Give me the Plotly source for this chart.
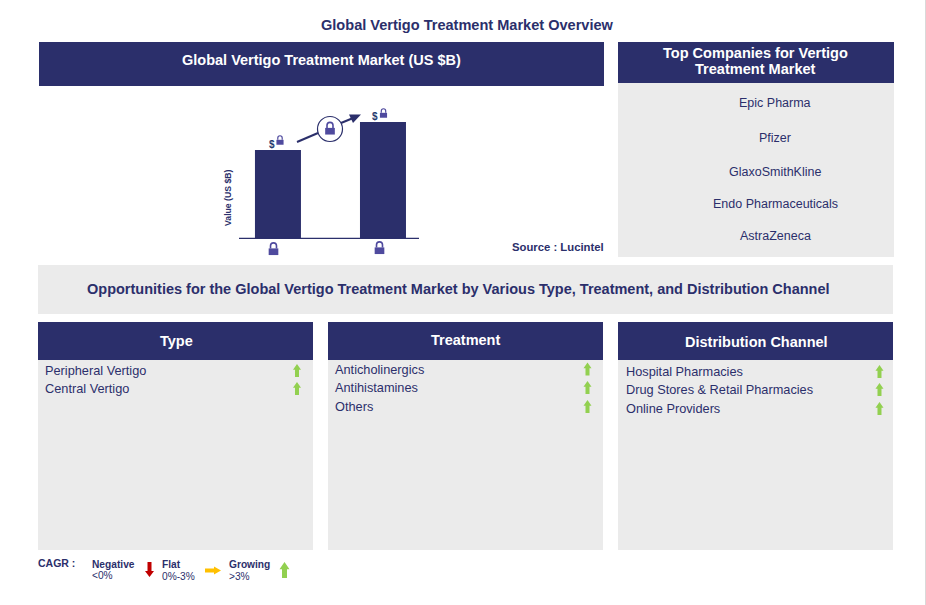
import plotly.graph_objects as go

W, H = 926, 605
NAVY = "#2B2F6B"
GRAY = "#EBEBEB"
GREEN = "#92D050"
LOCK = "#4F4A9E"
FONT = "Liberation Sans"

chart_title = "Global Vertigo Treatment Market Overview"
bar_panel_title = "Global Vertigo Treatment Market (US $B)"
company_panel_title = ["Top Companies for Vertigo", "Treatment Market"]
banner_text = "Opportunities for the Global Vertigo Treatment Market by Various Type, Treatment, and Distribution Channel"
source_text = "Source : Lucintel"
y_axis_title = "Value (US $B)"

bar_positions = [0, 1]
bar_values = [2.2, 2.9]

companies = ["Epic Pharma", "Pfizer", "GlaxoSmithKline", "Endo Pharmaceuticals", "AstraZeneca"]
company_y = [103.5, 137.5, 171.5, 203.5, 235.5]

segment_titles = ["Type", "Treatment", "Distribution Channel"]
type_items = ["Peripheral Vertigo", "Central Vertigo"]
treatment_items = ["Anticholinergics", "Antihistamines", "Others"]
channel_items = ["Hospital Pharmacies", "Drug Stores & Retail Pharmacies", "Online Providers"]

shapes, annots = [], []


def px(x):
    return x / W


def py(y):
    return 1 - y / H


def rect(x0, y0, x1, y1, color):
    shapes.append(dict(type="rect", xref="paper", yref="paper", x0=px(x0), x1=px(x1),
                       y0=py(y1), y1=py(y0), fillcolor=color, line_width=0, layer="below"))


def poly(points, color):
    d = "M " + " L ".join(f"{px(x):.5f},{py(y):.5f}" for x, y in points) + " Z"
    shapes.append(dict(type="path", xref="paper", yref="paper", path=d, fillcolor=color, line_width=0))


def line(x0, y0, x1, y1, color, width):
    shapes.append(dict(type="line", xref="paper", yref="paper", x0=px(x0), x1=px(x1),
                       y0=py(y0), y1=py(y1), line=dict(color=color, width=width)))


def text(x, y, s, size=12, color=NAVY, bold=False, anchor="center", vanchor="middle", **kw):
    annots.append(dict(xref="paper", yref="paper", x=px(x), y=py(y),
                       text=f"<b>{s}</b>" if bold else s, showarrow=False,
                       xanchor=anchor, yanchor=vanchor, align="center",
                       font=dict(family=FONT, size=size, color=color),
                       borderpad=0, borderwidth=0, **kw))


def up_arrow(cx, top, bottom, half=4, stem=2, color=GREEN):
    head = top + (bottom - top) * 0.45
    poly([(cx, top), (cx + half, head), (cx + stem, head), (cx + stem, bottom),
          (cx - stem, bottom), (cx - stem, head), (cx - half, head)], color)


def lock(cx, cy, s=1.0):
    bw, bh = 4.2 * s, 3.4 * s
    poly([(cx - bw, cy - bh + 2 * s), (cx + bw, cy - bh + 2 * s), (cx + bw, cy + bh + 1 * s), (cx - bw, cy + bh + 1 * s)], LOCK)
    xa, xb = px(cx - 2.6 * s), px(cx + 2.6 * s)
    ya, yt = py(cy - bh + 2 * s), py(cy - 6.2 * s)
    shapes.append(dict(type="path", xref="paper", yref="paper",
                       path=f"M {xa:.5f},{ya:.5f} L {xa:.5f},{py(cy - 3.6 * s):.5f} "
                            f"Q {xa:.5f},{yt:.5f} {px(cx):.5f},{yt:.5f} "
                            f"Q {xb:.5f},{yt:.5f} {xb:.5f},{py(cy - 3.6 * s):.5f} L {xb:.5f},{ya:.5f}",
                       line=dict(color=LOCK, width=1.4 * s), fillcolor="rgba(0,0,0,0)"))


# Page title
text(467, 25, chart_title, 14.55, bold=True)

# Bar panel and company panel
rect(39, 42, 604, 86, NAVY)
text(321.5, 60, bar_panel_title, 14.5, "white", True)
rect(618, 42, 894, 83, NAVY)
rect(618, 83, 894, 257, GRAY)
text(755, 53, company_panel_title[0], 14.55, "white", True)
text(755, 69, company_panel_title[1], 14.55, "white", True)
for name, y in zip(companies, company_y):
    text(775, y, name, 12.5)

# Banner
rect(38, 265, 893, 314, GRAY)
text(458, 289, banner_text, 14.5, bold=True)

# Segment panels
panels = [(38, 313, 176, 341), (328, 603, 466, 340), (618, 893, 756, 342)]
item_lists = [type_items, treatment_items, channel_items]
item_rows = [[370.5, 388.5], [369, 387.5, 406.5], [371.5, 389.5, 408.5]]
arrow_x = [297, 587.5, 879.5]
text_x = [45, 335, 626]
for (x0, x1, tc, ty), title, items, rows, ax, tx in zip(panels, segment_titles, item_lists, item_rows, arrow_x, text_x):
    rect(x0, 322, x1, 360, NAVY)
    rect(x0, 360, x1, 550, GRAY)
    text(tc, ty, title, 14.5, "white", True)
    for it, y in zip(items, rows):
        text(tx, y, it, 12.75, anchor="left")
        up_arrow(ax, y - 6.5, y + 6.5)

# Chart decorations
text(558, 247, source_text, 11.3, bold=True)
text(228, 198, f"<b>{y_axis_title}</b>", 8.7, textangle=-90)
lock(280, 141, 0.85)
lock(383.5, 114, 0.85)
lock(273.5, 250, 1.15)
lock(379.5, 249, 1.15)
text(271.5, 144, "$", 10, "#1F3A6E", True)
text(375, 117, "$", 10, "#1F3A6E", True)
line(297, 142, 318, 133, NAVY, 2)
line(341, 123, 352, 118.5, NAVY, 2)
poly([(361, 114.5), (349, 114.5), (353, 123)], NAVY)
shapes.append(dict(type="circle", xref="paper", yref="paper", x0=px(317.5), x1=px(342.5),
                   y0=py(141.5), y1=py(116.5), line=dict(color=NAVY, width=1.2), fillcolor="white"))
lock(330, 129.5, 1.15)

# Legend
text(38, 563, "CAGR :", 10.5, bold=True, anchor="left")
text(92, 564.5, "Negative", 10.2, bold=True, anchor="left")
text(91.5, 575, "&lt;0%", 10.2, anchor="left")
poly([(147.5, 562), (151.5, 562), (151.5, 571), (154, 571), (149.5, 577), (145, 571), (147.5, 571)], "#C00000")
text(162, 564.5, "Flat", 10.2, bold=True, anchor="left")
text(162, 576.5, "0%-3%", 10.2, anchor="left")
poly([(205, 568.5), (214, 568.5), (214, 566.5), (221, 570.5), (214, 574.5), (214, 572.5), (205, 572.5)], "#FFC000")
text(229, 564.5, "Growing", 10.2, bold=True, anchor="left")
text(229, 576.5, "&gt;3%", 10.2, anchor="left")
up_arrow(284.5, 562, 578, 5, 2.5)

# Thin page edge at the right
line(925.5, 0, 925.5, 605, "#D9D9D9", 1)
line(239, 238.3, 419, 238.3, NAVY, 1.3)

fig = go.Figure(go.Bar(x=bar_positions, y=bar_values, width=0.438, marker=dict(color=NAVY, line_width=0),
                       hoverinfo="skip"))
fig.update_layout(
    width=W, height=H, margin=dict(l=0, r=0, t=0, b=0), showlegend=False,
    paper_bgcolor="white", plot_bgcolor="white", shapes=shapes, annotations=annots,
    xaxis=dict(domain=[px(239), px(419)], range=[-0.371, 1.343], showgrid=False, zeroline=False,
               showticklabels=False, ticks="", showline=False),
    yaxis=dict(domain=[py(238), py(98)], range=[0, 3.5], showgrid=False, zeroline=False,
               showticklabels=False, ticks="", showline=False),
)
fig.write_html("out.html", config=dict(displayModeBar=False),
               post_script="document.body.style.margin='0';document.body.style.overflow='hidden';")
